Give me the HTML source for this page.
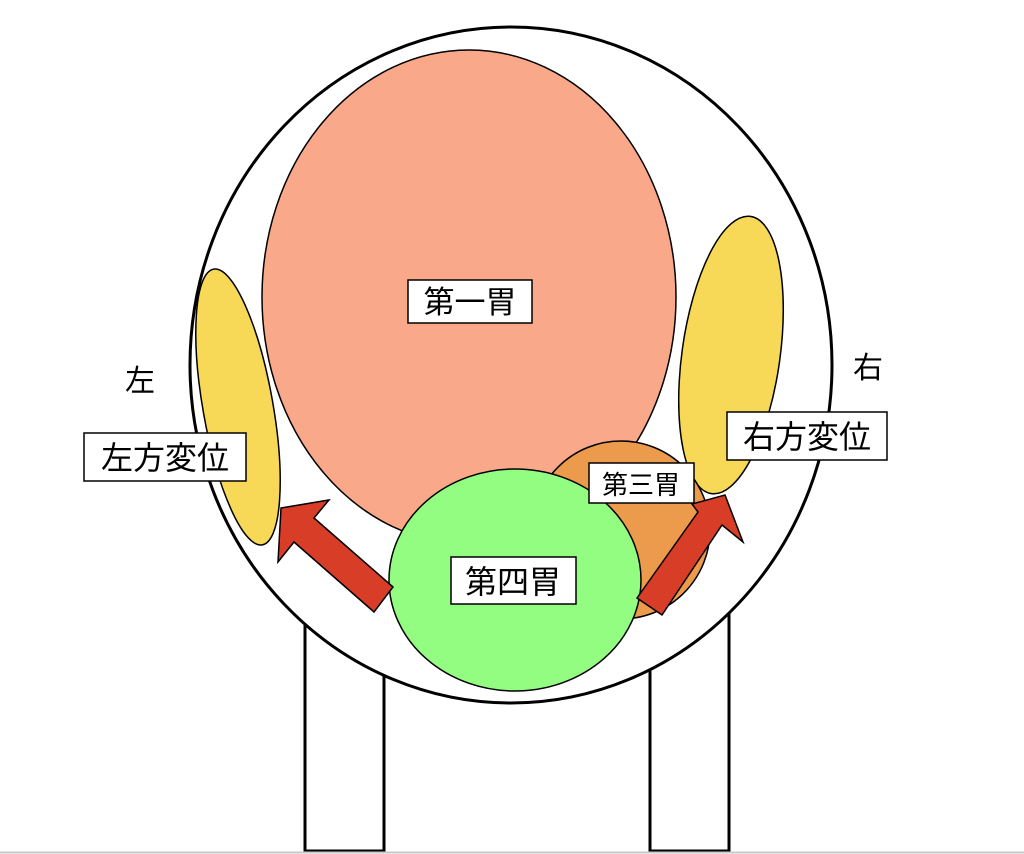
<!DOCTYPE html>
<html><head><meta charset="utf-8"><style>
html,body{margin:0;padding:0;background:#fff;}
svg{display:block;}
text{font-family:"Liberation Sans","Noto Sans CJK JP",sans-serif;fill:#000;}
</style></head><body>
<svg width="1024" height="854" viewBox="0 0 1024 854" xmlns="http://www.w3.org/2000/svg">
<rect x="305" y="560" width="79" height="291" fill="#fff" stroke="#000" stroke-width="3"/>
<rect x="650" y="560" width="79" height="291" fill="#fff" stroke="#000" stroke-width="3"/>
<line x1="0" y1="852.5" x2="1024" y2="852.5" stroke="#c8c8c8" stroke-width="2"/>
<ellipse cx="511" cy="365" rx="321" ry="338" fill="#fff" stroke="#000" stroke-width="3"/>
<ellipse cx="469" cy="297" rx="207" ry="247" fill="#f9a98a" stroke="#000" stroke-width="1.5"/>
<ellipse cx="238" cy="407" rx="35" ry="140" transform="rotate(-10 238 407)" fill="#f7d957" stroke="#000" stroke-width="1.5"/>
<ellipse cx="731" cy="355" rx="49" ry="140" transform="rotate(8 731 355)" fill="#f7d957" stroke="#000" stroke-width="1.5"/>
<circle cx="621" cy="530" r="89" fill="#ec9a4c" stroke="#000" stroke-width="1.5"/>
<ellipse cx="515" cy="580" rx="126" ry="111" fill="#93fd82" stroke="#000" stroke-width="1.5"/>
<polygon points="281,508 329,500 314,518 393,587 374,612 294,542 278,562" fill="#d83d27" stroke="#000" stroke-width="1.5"/>
<polygon points="725,495 743,542 722,525 662,615 637,598 698,512 692,504" fill="#d83d27" stroke="#000" stroke-width="1.5"/>
<rect x="408" y="280" width="124" height="43" fill="#fff" stroke="#000" stroke-width="1.5"/>
<text x="470" y="313" font-size="31" text-anchor="middle">第一胃</text>
<rect x="84" y="433" width="162" height="48" fill="#fff" stroke="#000" stroke-width="1.5"/>
<text x="165" y="469" font-size="32" text-anchor="middle">左方変位</text>
<rect x="727" y="412" width="160" height="48" fill="#fff" stroke="#000" stroke-width="1.5"/>
<text x="807" y="448" font-size="32" text-anchor="middle">右方変位</text>
<rect x="589" y="463" width="105" height="40" fill="#fff" stroke="#000" stroke-width="1.5"/>
<text x="641" y="494" font-size="26" text-anchor="middle">第三胃</text>
<rect x="451" y="557" width="125" height="47" fill="#fff" stroke="#000" stroke-width="1.5"/>
<text x="513" y="593" font-size="32" text-anchor="middle">第四胃</text>
<text x="140" y="391" font-size="30" text-anchor="middle">左</text>
<text x="868" y="378" font-size="30" text-anchor="middle">右</text>
</svg>
</body></html>
